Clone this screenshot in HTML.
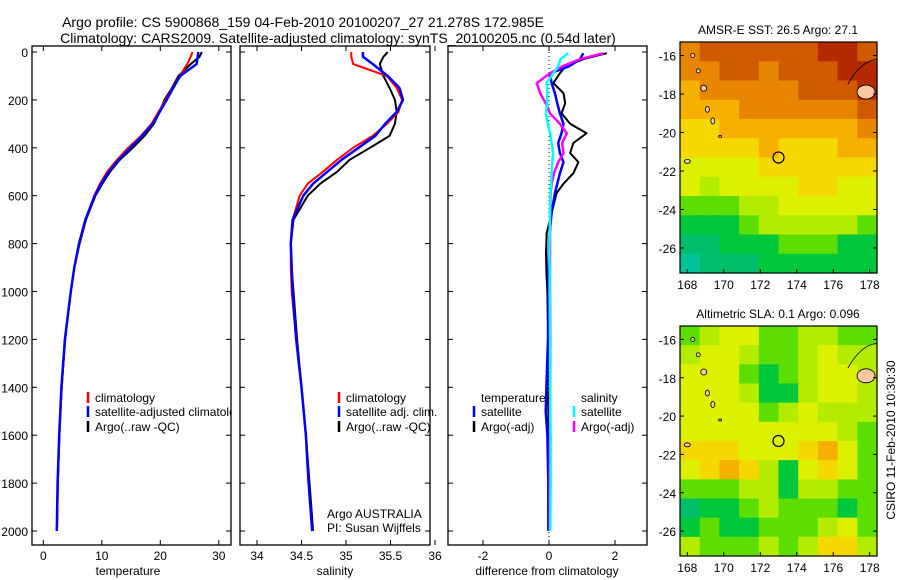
<!DOCTYPE html>
<html><head><meta charset="utf-8"><style>
html,body{margin:0;padding:0;background:#fff;}
svg{display:block;font-family:"Liberation Sans",sans-serif;}
</style></head><body>
<svg id="c" width="900" height="580" viewBox="0 0 900 580">
<defs>
<clipPath id="cp1"><rect x="32" y="46" width="199" height="499"/></clipPath>
<clipPath id="cp2"><rect x="240" y="46" width="190" height="499"/></clipPath>
<clipPath id="cp3"><rect x="448" y="46" width="199" height="499"/></clipPath>
</defs>
<text x="303" y="27" font-size="14" text-anchor="middle">Argo profile: CS 5900868_159 04-Feb-2010 20100207_27 21.278S 172.985E</text>
<text x="338" y="43" font-size="14" text-anchor="middle">Climatology: CARS2009. Satellite-adjusted climatology: synTS_20100205.nc (0.54d later)</text>
<g id="g"></g>
</svg>
<script>
// ---------- data ----------
const depths = [0,20,50,100,150,200,250,300,350,400,450,500,550,600,700,800,900,1000,1200,1400,1600,1800,2000];
const tempClim = [25.5,25.2,24.6,23.3,22.1,20.9,19.7,18.5,16.7,14.5,12.6,10.9,9.7,8.7,7.2,6.1,5.3,4.7,3.7,3.15,2.75,2.45,2.3];
const tempSat  = [26.5,26.4,26.2,23.4,22.2,21.1,19.9,18.7,16.9,14.9,12.9,11.2,9.9,8.8,7.2,6.1,5.3,4.7,3.7,3.1,2.72,2.45,2.3];
const tempArgo = [27.1,26.7,25.2,23.1,22.0,20.7,19.9,18.9,17.3,15.3,13.1,11.4,10.1,8.9,7.3,6.2,5.3,4.7,3.75,3.15,2.75,2.5,2.35];
const salClim  = [35.06,35.06,35.08,35.46,35.57,35.63,35.59,35.46,35.30,35.08,34.90,34.74,34.57,34.48,34.40,34.38,34.38,34.39,34.44,34.50,34.55,34.58,34.62];
const salSat   = [35.19,35.19,35.30,35.47,35.60,35.64,35.57,35.44,35.33,35.14,34.95,34.79,34.63,34.52,34.40,34.38,34.39,34.40,34.44,34.50,34.55,34.58,34.62];
const salArgo  = [35.47,35.42,35.38,35.42,35.49,35.55,35.57,35.55,35.49,35.27,35.04,34.90,34.71,34.57,34.41,34.38,34.39,34.41,34.45,34.50,34.55,34.59,34.63];
const diffDepths = [5,30,60,89,130,172,214,256,300,339,380,422,460,506,550,589,672,756,839,922,1006,1200,1400,1500,1600,1800,2000];
const dTempSat  = [1.04,0.94,0.6,0.03,0.08,0.18,0.25,0.33,0.44,0.38,0.28,0.33,0.44,0.33,0.25,0.18,0.08,0.02,-0.01,-0.02,-0.01,-0.03,-0.08,-0.1,-0.05,-0.02,-0.02];
const dTempArgo = [1.75,1.04,0.5,0.33,0.13,0.44,0.49,0.38,0.64,1.14,0.74,0.64,0.89,0.74,0.44,0.23,0.08,-0.07,-0.09,-0.08,-0.05,-0.03,-0.04,-0.02,0.0,0.0,0.02];
const dSalSat   = [0.58,0.35,0.28,0.13,-0.07,-0.05,-0.06,-0.09,-0.04,0.03,0.08,0.13,0.1,0.08,0.06,0.04,0.03,0.02,0.01,0.02,0.02,0.03,0.04,0.04,0.05,0.05,0.04];
const dSalArgo  = [1.65,0.94,0.4,0.03,-0.37,-0.27,-0.1,0.03,0.33,0.54,0.4,0.44,0.28,0.15,0.08,0.05,0.04,0.03,0.03,0.03,0.03,0.04,0.04,0.03,0.03,0.02,0.02];
const tempTicks = [0,10,20,30];
const salTicks = [34,34.5,35,35.5,36];
const diffTicks = [-2,0,2];
const depthTicks = [0,200,400,600,800,1000,1200,1400,1600,1800,2000];
const lonTicks = [168,170,172,174,176,178];
const latTicks = [-16,-18,-20,-22,-24,-26];
// maps: 12 rows (lat -15.3 to -27.3), 10 cols (lon 167.6 to 178.4), colour index 0..10
const sstGrid = [
[8,9,9,9,9,9,9,10,10,9],[8,8,9,9,8,9,9,9,10,10],[7,8,8,8,8,8,9,9,9,10],[7,7,7,8,8,8,8,8,8,9],
[6,6,7,7,7,7,7,7,7,8],[6,6,6,6,7,6,6,6,7,7],[5,5,5,5,6,6,6,6,6,6],[5,4,5,5,5,5,6,6,5,5],
[3,3,3,4,4,5,5,5,5,5],[2,2,2,3,4,4,4,4,4,3],[1,1,2,2,2,3,3,3,2,2],[0,1,1,1,2,2,2,2,2,2]];
const slaGrid = [
[3,4,5,5,3,3,4,4,3,3],[4,5,5,4,3,3,4,5,4,4],[5,5,5,3,2,3,4,5,5,4],[5,5,5,4,2,2,4,5,5,4],
[5,5,5,5,3,4,5,4,4,4],[5,5,5,5,5,5,5,5,4,3],[6,6,6,5,5,5,6,7,5,3],[5,6,7,6,4,2,5,6,5,3],
[3,3,3,4,4,2,4,4,3,3],[1,2,2,3,4,3,3,3,2,3],[2,3,2,2,3,3,3,4,5,3],[4,3,3,3,4,3,4,6,6,4]];
const palette = ['#00c39a','#00bd6a','#00c83a','#5ede00','#b4ec00','#dcf000','#f4d800','#f6b000','#e88600','#d05a00','#b42a00'];
const argoLon = 173.0, argoLat = -21.3;

// ---------- helpers ----------
const NS='http://www.w3.org/2000/svg';
const G=document.getElementById('g');
function mk(tag,attrs,parent){const e=document.createElementNS(NS,tag);for(const k in attrs)e.setAttribute(k,attrs[k]);(parent||G).appendChild(e);return e;}
const yD = d => 52 + d*0.2395;
const xT = v => 43.3 + v*5.85;
const xS = v => 257 + (v-34)*89;
const xDf = v => 549 + v*33;

function frame(x0,x1,name){
  const r=mk('rect',{x:x0,y:46,width:x1-x0,height:499,fill:'#fff',stroke:'#000','stroke-width':1.3});
  
  
  depthTicks.forEach(d=>{const y=yD(d);
    mk('line',{x1:x0,x2:x0+5,y1:y,y2:y,stroke:'#000'});
    mk('line',{x1:x1-5,x2:x1,y1:y,y2:y,stroke:'#000'});});
}
function xticks(ticks,fx,x0,x1,fmt){
  ticks.forEach(v=>{const x=fx(v);
    mk('line',{x1:x,x2:x,y1:46,y2:51,stroke:'#000'});
    mk('line',{x1:x,x2:x,y1:540,y2:545,stroke:'#000'});
    const t=mk('text',{x:x,y:560,'font-size':12,'text-anchor':'middle'});t.textContent=fmt(v);
    
    });
}
function line(vals,ds,fx,color,w,clip,name){
  const pts=vals.map((v,i)=>fx(v).toFixed(1)+','+yD(ds[i]).toFixed(1)).join(' ');
  const p=mk('polyline',{points:pts,fill:'none',stroke:color,'stroke-width':w,'stroke-linejoin':'round','clip-path':'url(#'+clip+')'});
  
  
}
function txt(x,y,s,name,extra){const t=mk('text',Object.assign({x:x,y:y,'font-size':12},extra||{}));t.textContent=s;
  
  return t;}
function leg(x,y,color,s,clip,name){
  mk('line',{x1:x,x2:x,y1:y-10,y2:y+1,stroke:color,'stroke-width':2.5});
  txt(x+7,y,s,name,clip?{'clip-path':'url(#'+clip+')'}:{});
}

// panel 1
frame(32,231,'temperature-panel');
depthTicks.forEach(d=>{txt(28,yD(d)+5,String(d),'y-tick-label',{'text-anchor':'end'});});
xticks(tempTicks,xT,32,231,v=>String(v));
line(tempArgo,depths,xT,'#000',2,'cp1','temp-argo-line');
line(tempClim,depths,xT,'#f00',2,'cp1','temp-climatology-line');
line(tempSat,depths,xT,'#00f',2.5,'cp1','temp-satellite-line');
leg(88,402,'#f00','climatology','cp1','legend-climatology');
leg(88,416,'#00f','satellite-adjusted climatology','cp1','legend-satellite-adjusted');
leg(88,431,'#000','Argo(..raw -QC)','cp1','legend-argo-raw');
txt(128,575,'temperature','x-axis-title-temperature',{'text-anchor':'middle'});

// panel 2
frame(240,430,'salinity-panel');
xticks(salTicks,xS,240,430,v=>String(v));
line(salArgo,depths,xS,'#000',2,'cp2','sal-argo-line');
line(salClim,depths,xS,'#f00',2,'cp2','sal-climatology-line');
line(salSat,depths,xS,'#00f',2.5,'cp2','sal-satellite-line');
leg(339,402,'#f00','climatology',null,'legend-sal-climatology');
leg(339,416,'#00f','satellite adj. clim.',null,'legend-sal-satellite');
leg(339,431,'#000','Argo(..raw -QC)',null,'legend-sal-argo');
txt(327,518,'Argo AUSTRALIA','institution-label');
txt(327,532,'PI: Susan Wijffels','pi-label');
txt(335,575,'salinity','x-axis-title-salinity',{'text-anchor':'middle'});

// panel 3
frame(448,647,'difference-panel');
xticks(diffTicks,xDf,448,647,v=>String(v));
mk('line',{x1:xDf(0),x2:xDf(0),y1:52,y2:545,stroke:'#000','stroke-dasharray':'1,3'});
line(dTempArgo,diffDepths,xDf,'#000',2,'cp3','diff-temp-argo-line');
line(dTempSat,diffDepths,xDf,'#00f',2.5,'cp3','diff-temp-satellite-line');
line(dSalArgo,diffDepths,xDf,'#f0f',2.5,'cp3','diff-sal-argo-line');
line(dSalSat,diffDepths,xDf,'#0ff',2.5,'cp3','diff-sal-satellite-line');
txt(481,402,'temperature','legend-temperature-header');
txt(581,402,'salinity','legend-salinity-header');
leg(474,416,'#00f','satellite',null,'legend-diff-temp-satellite');
leg(474,431,'#000','Argo(-adj)',null,'legend-diff-temp-argo');
leg(574,416,'#0ff','satellite',null,'legend-diff-sal-satellite');
leg(574,431,'#f0f','Argo(-adj)',null,'legend-diff-sal-argo');
txt(547,575,'difference from climatology','x-axis-title-difference',{'text-anchor':'middle'});

// maps
function map(grid,top,bot,title,name){
  const x0=680,x1=877;
  const lat0=-15.3,lat1=-27.3,lon0=167.6,lon1=178.4;
  const fx=lon=>x0+(lon-lon0)/(lon1-lon0)*(x1-x0);
  const fy=lat=>top+(lat0-lat)/(lat0-lat1)*(bot-top);
  const rows=grid.length,cols=grid[0].length;
  const g=mk('g',{});
  
  
  grid.forEach((row,r)=>row.forEach((v,c)=>{
    const la=lat0+(lat1-lat0)*r/rows, lo=lon0+(lon1-lon0)*c/cols;
    const cell=mk('rect',{x:fx(lo),y:fy(la),width:(x1-x0)/cols+0.6,height:(bot-top)/rows+0.6,fill:palette[v]},g);
    
    
  }));
  [[177.8,-17.9,9,7],[168.3,-16.0,2,2],[168.6,-16.8,2,2],[168.9,-17.7,3,3],[169.1,-18.8,2,3],[169.4,-19.4,2,3],[168.0,-21.5,3,2],[169.8,-20.2,1.5,1]].forEach(a=>{
    const e=mk('ellipse',{cx:fx(a[0]),cy:fy(a[1]),rx:a[2],ry:a[3],fill:'#f9c8a0',stroke:'#000','stroke-width':0.8},g);
    
    
  });
  mk('path',{d:`M${fx(176.8)},${fy(-17.5)} Q${fx(177.5)},${fy(-16.3)} ${fx(178.4)},${fy(-16.2)}`,fill:'none',stroke:'#000','stroke-width':0.8},g);
  const ci=mk('circle',{cx:fx(argoLon),cy:fy(argoLat),r:5.5,fill:'none',stroke:'#000','stroke-width':1.2},g);
  
  
  const fr=mk('rect',{x:x0,y:top,width:x1-x0,height:bot-top,fill:'none',stroke:'#000','stroke-width':1.2});
  
  
  lonTicks.forEach(l=>{const x=fx(l);
    mk('line',{x1:x,x2:x,y1:bot,y2:bot-4,stroke:'#000'});
    txt(x,bot+16,String(l),'map-lon-label',{'text-anchor':'middle'});});
  latTicks.forEach(l=>{const y=fy(l);
    mk('line',{x1:x0,x2:x0+4,y1:y,y2:y,stroke:'#000'});
    mk('line',{x1:x1-4,x2:x1,y1:y,y2:y,stroke:'#000'});
    txt(676,y+5,String(l),'map-lat-label',{'text-anchor':'end'});});
  txt(778,top-8,title,name+'-title',{'text-anchor':'middle'});
}
map(sstGrid,42,273,'AMSR-E SST: 26.5  Argo: 27.1','sst-map');
map(slaGrid,326,556,'Altimetric SLA: 0.1  Argo: 0.096','sla-map');
txt(0,0,'CSIRO 11-Feb-2010 10:30:30','timestamp-label',{'text-anchor':'middle',transform:'translate(895,440) rotate(-90)'});
</script>
</body></html>
